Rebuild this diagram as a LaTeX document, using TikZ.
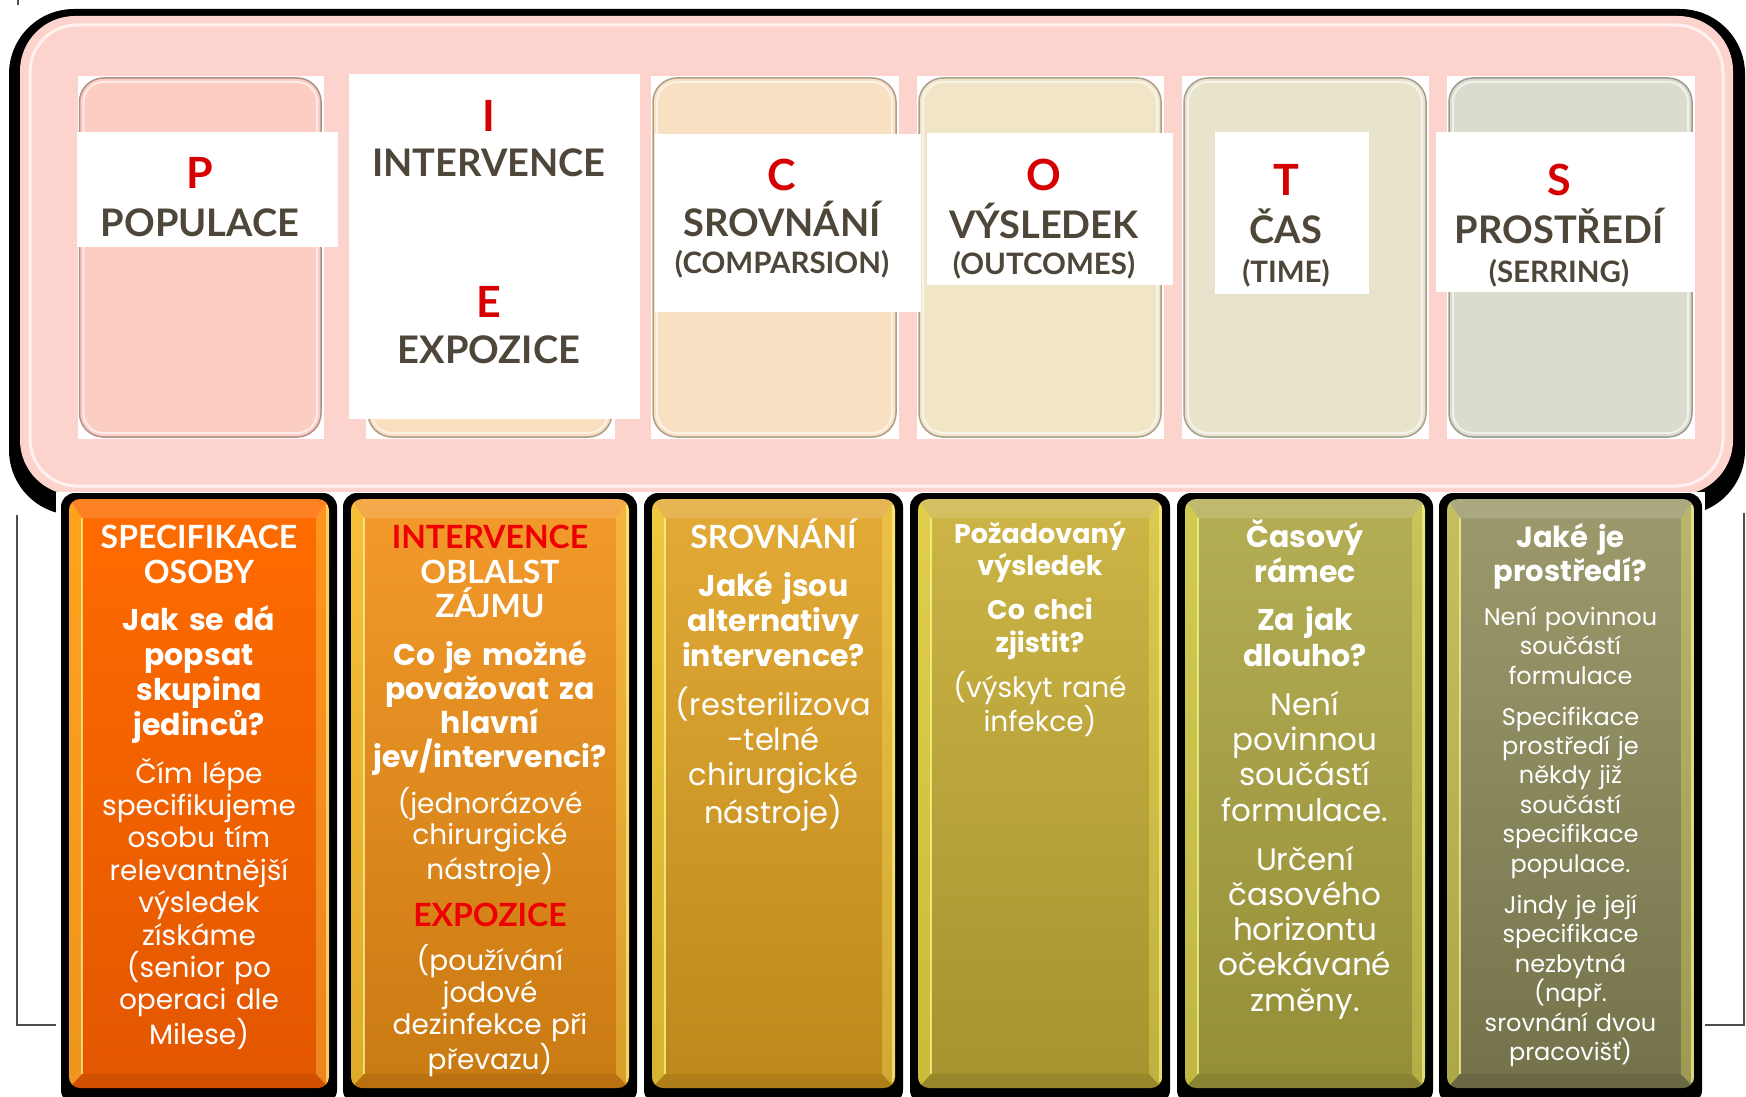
\documentclass[tikz,border=0pt]{standalone}
\usepackage{fontspec}
\setmainfont{Poppins}
\newfontfamily\hdfont{Lato}
\definecolor{pinkbg}{HTML}{FDD3CD}
\definecolor{txtgray}{HTML}{4E4639}
\definecolor{redl}{HTML}{D60000}
\definecolor{redc}{HTML}{EE0000}
\definecolor{cardP}{HTML}{FBCDC3}
\definecolor{cardI}{HTML}{F9DEC0}
\definecolor{cardC}{HTML}{F8E0C3}
\definecolor{cardO}{HTML}{F1E5C8}
\definecolor{cardT}{HTML}{E8E3CB}
\definecolor{cardS}{HTML}{DBDCCE}
\definecolor{ca1}{HTML}{FF6C00}\definecolor{cb1}{HTML}{E25600}
\definecolor{ca2}{HTML}{F39A2C}\definecolor{cb2}{HTML}{C97A12}
\definecolor{ca3}{HTML}{E3AA36}\definecolor{cb3}{HTML}{BD891C}
\definecolor{ca4}{HTML}{CDB546}\definecolor{cb4}{HTML}{A6932F}
\definecolor{ca5}{HTML}{B4AE55}\definecolor{cb5}{HTML}{958E38}
\definecolor{ca6}{HTML}{9D9B6D}\definecolor{cb6}{HTML}{74724A}
\newcommand\pcard[3]{%
  \fill[white] ({#1-2},76) rectangle ({#2+3},439);
  \fill[#3, draw=#3!70!black, line width=1.5pt, rounded corners=24pt] (#1,78) rectangle (#2,437);
  \draw[white, opacity=.6, line width=2pt, rounded corners=20pt] ({#1+4},82) rectangle ({#2-4},433);
}
\newcommand\pcol[4]{%
  \fill[black, rounded corners=14pt] (#1,493) rectangle (#2,1104);
  \begin{scope}
    \clip[rounded corners=11pt] ({#1+8},499) rectangle ({#2-8},1088);
    \shade[top color=#3, bottom color=#4] ({#1+8},499) rectangle ({#2-8},1088);
    \fill[yellow!70!white, opacity=.4] ({#1+8},499) -- ({#1+21},518) -- ({#1+21},1074) -- ({#1+8},1088) -- cycle;
    \fill[yellow!60!white, opacity=.3] ({#2-8},499) -- ({#2-21},518) -- ({#2-21},1074) -- ({#2-8},1088) -- cycle;
    \fill[white, opacity=.15] ({#1+8},499) -- ({#2-8},499) -- ({#2-21},518) -- ({#1+21},518) -- cycle;
    \fill[black, opacity=.08] ({#1+8},1088) -- ({#2-8},1088) -- ({#2-21},1074) -- ({#1+21},1074) -- cycle;
    \draw[yellow!40!white, opacity=.7, line width=2pt] ({#1+21},518) -- ({#1+21},1074);
    \draw[yellow!40!white, opacity=.6, line width=3pt] ({#2-9.5},505) -- ({#2-9.5},1082);
  \end{scope}
}
\tikzset{
  letter/.style={font=\hdfont\bfseries\fontsize{43}{43}\selectfont, text=redl, anchor=base, inner sep=0pt},
  word/.style={font=\hdfont\bfseries\fontsize{38}{38}\selectfont, text=txtgray, anchor=base, inner sep=0pt},
  subw/.style={font=\hdfont\bfseries\fontsize{29.5}{30}\selectfont, text=txtgray, anchor=base, inner sep=0pt},
  colhead/.style={font=\hdfont\bfseries\fontsize{32}{34.5}\selectfont, text=white, text width=300pt, align=center, anchor=base, inner sep=0pt},
  qb/.style 2 args={font=\bfseries\fontsize{#1}{#2}\selectfont, text=white, text width=300pt, align=center, anchor=base, inner sep=0pt},
  bd/.style 2 args={font=\fontsize{#1}{#2}\selectfont, text=white, text width=300pt, align=center, anchor=base, inner sep=0pt},
  thin/.style={line width=1.2pt, black!70},
}
\begin{document}
\begin{tikzpicture}[x=1pt,y=-1pt]
\useasboundingbox (0,0) rectangle (1746,1097);
\clip (0,0) rectangle (1746,1097);
\fill[white] (0,0) rectangle (1746,1097);
% thin frame behind
\coordinate (fl1) at (17,515); \coordinate (fl2) at (17,1025); \coordinate (fl3) at (57,1025);
\coordinate (fr1) at (1744,513); \coordinate (fr2) at (1744,1025); \coordinate (fr3) at (1705,1025);
\coordinate (tk1) at (18,0); \coordinate (tk2) at (18,5);
\draw[thin] (fl1) -- (fl2) -- (fl3);
\draw[thin] (fr1) -- (fr2) -- (fr3);
\draw[thin] (tk1) -- (tk2);
% big rounded frame
\fill[black, rounded corners=65pt] (9,9) rectangle (1745,515);
\fill[pinkbg, rounded corners=55pt] (20,16) rectangle (1733,495);
\draw[white, opacity=.7, line width=3pt, rounded corners=47pt] (30,25) rectangle (1723,486);
\fill[white] (56,492) rectangle (1705,1097);
% top cards
\pcard{79.5}{321}{cardP}
\pcard{368}{612}{cardI}
\pcard{653}{896}{cardC}
\pcard{919}{1161}{cardO}
\pcard{1184}{1426}{cardT}
\pcard{1449}{1692}{cardS}
% white labels
\fill[white] (77,132) rectangle (338,247);
\fill[white] (349,74) rectangle (640,419);
\fill[white] (655,134) rectangle (921,312);
\fill[white] (927,133) rectangle (1173,285);
\fill[white] (1215,132) rectangle (1369,294);
\fill[white] (1436,132) rectangle (1694,292);
\node[letter] (lp) at (200,188.5) {P};
\node[word] (wp) at (200,236.7) {POPULACE};
\node[letter] (li) at (489,131.5) {I};
\node[word] (wi) at (489,176.7) {INTERVENCE};
\node[letter] (le) at (489,317.5) {E};
\node[word] (we) at (489,363.7) {EXPOZICE};
\node[letter] (lc) at (782,190.5) {C};
\node[word] (wc) at (782,236.7) {SROVNÁNÍ};
\node[subw] (sc) at (782,273.6) {(COMPARSION)};
\node[letter] (lo) at (1044,190.5) {O};
\node[word] (wo) at (1044,238.7) {VÝSLEDEK};
\node[subw] (so) at (1044,274) {(OUTCOMES)};
\node[letter] (lt) at (1286,195.5) {T};
\node[word] (wt) at (1286,243.7) {ČAS};
\node[subw] (st) at (1286,282.6) {(TIME)};
\node[letter] (ls) at (1559,195.5) {S};
\node[word] (ws) at (1559,243.7) {PROSTŘEDÍ};
\node[subw] (ss) at (1559,282.6) {(SERRING)};
% bottom columns
\pcol{61}{337}{ca1}{cb1}
\pcol{343}{637}{ca2}{cb2}
\pcol{644}{903}{ca3}{cb3}
\pcol{910}{1170}{ca4}{cb4}
\pcol{1177}{1433}{ca5}{cb5}
\pcol{1439}{1702}{ca6}{cb6}
% column 1
\node[colhead] (h1) at (199,548.5) {SPECIFIKACE\\OSOBY};
\node[qb={30}{35.3}] (q1) at (199,630) {Jak se dá\\popsat\\skupina\\jedinců?};
\node[bd={28}{32.4}] (b1) at (199,783) {Čím lépe\\specifikujeme\\osobu tím\\relevantnější\\výsledek\\získáme\\(senior po\\operaci dle\\Milese)};
% column 2
\node[colhead] (h2) at (490,548.5) {\textcolor{redc}{INTERVENCE}\\OBLALST\\ZÁJMU};
\node[qb={30}{34}] (q2) at (490,665) {Co je možné\\považovat za\\hlavní\\jev/intervenci?};
\node[bd={28}{31.5}] (b2) at (490,813) {(jednorázové\\chirurgické\\nástroje)};
\node[colhead, text=redc] (h2b) at (490,926) {EXPOZICE};
\node[bd={28}{32.3}] (b2b) at (490,970) {(používání\\jodové\\dezinfekce při\\převazu)};
% column 3
\node[colhead] (h3) at (773.5,548.5) {SROVNÁNÍ};
\node[qb={30}{35}] (q3) at (773.5,596) {Jaké jsou\\alternativy\\intervence?};
\node[bd={30.5}{35.3}] (b3) at (773.5,715) {(resterilizova\\-telné\\chirurgické\\nástroje)};
% column 4
\node[qb={27}{32}] (h4) at (1040,543) {Požadovaný\\výsledek};
\node[qb={27}{33}] (q4) at (1040,619) {Co chci\\zjistit?};
\node[bd={28}{32}] (b4) at (1040,697) {(výskyt rané\\infekce)};
% column 5
\node[qb={30}{35}] (h5) at (1305,547) {Časový\\rámec};
\node[qb={30}{36}] (q5) at (1305,630) {Za jak\\dlouho?};
\node[bd={31}{35.4}] (b5) at (1305,715) {Není\\povinnou\\součástí\\formulace.};
\node[bd={31}{35.3}] (b5b) at (1305,870) {Určení\\časového\\horizontu\\očekávané\\změny.};
% column 6
\node[qb={29}{34}] (h6) at (1570.5,547) {Jaké je\\prostředí?};
\node[bd={24}{29.5}] (b6) at (1570.5,625) {Není povinnou\\součástí\\formulace};
\node[bd={24}{29.4}] (b6b) at (1570.5,725) {Specifikace\\prostředí je\\někdy již\\součástí\\specifikace\\populace.};
\node[bd={24}{29.5}] (b6c) at (1570.5,913) {Jindy je její\\specifikace\\nezbytná\\(např.\\srovnání dvou\\pracovišť)};
\end{tikzpicture}
\end{document}
